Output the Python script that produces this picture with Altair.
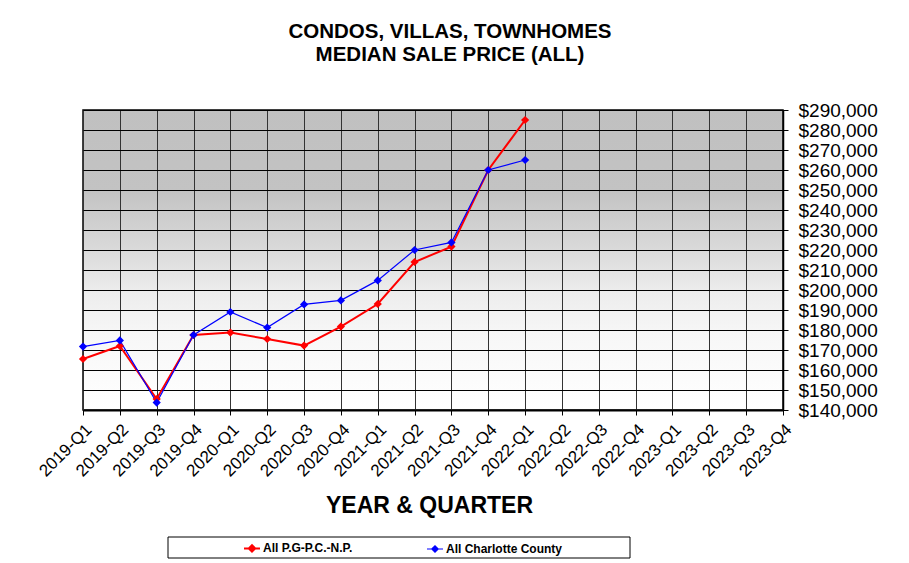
import altair as alt
import pandas as pd

quarters = ["2019-Q1", "2019-Q2", "2019-Q3", "2019-Q4",
            "2020-Q1", "2020-Q2", "2020-Q3", "2020-Q4",
            "2021-Q1", "2021-Q2", "2021-Q3", "2021-Q4",
            "2022-Q1", "2022-Q2", "2022-Q3", "2022-Q4",
            "2023-Q1", "2023-Q2", "2023-Q3", "2023-Q4"]
series_names = ["All P.G-P.C.-N.P.", "All Charlotte County"]
series_colors = ["#ff0000", "#0000ff"]
pgpc_values = [165500, 172000, 145500, 177500, 178700, 175500, 172200,
               181700, 193000, 214000, 221700, 260000, 285000]
charlotte_values = [171700, 174800, 143700, 177500, 189000, 181200, 192800,
                    194800, 204800, 220000, 223800, 260000, 265000]
y_ticks = [140000, 150000, 160000, 170000, 180000, 190000, 200000, 210000,
           220000, 230000, 240000, 250000, 260000, 270000, 280000, 290000]

rows = []
for name, vals in zip(series_names, [pgpc_values, charlotte_values]):
    for q, v in zip(quarters, vals):
        rows.append({"quarter": q, "series": name, "price": v})
df = pd.DataFrame(rows)

FONT = "Liberation Sans"

x_enc = alt.X(
    "quarter:O",
    scale=alt.Scale(type="point", domain=quarters, padding=0),
    axis=alt.Axis(
        title="YEAR & QUARTER", labelAngle=-45, labelFont=FONT, labelFontSize=17,
        labelColor="black", labelPadding=6, labelOverlap=False,
        tickSize=5, tickColor="black", domainColor="black", domainWidth=2,
        grid=True, gridColor="#333333", gridWidth=1,
        titleFont=FONT, titleFontSize=23, titleFontWeight="bold", titleColor="black",
        titleX=346, titleY=95, titleAlign="center", titleBaseline="middle",
    ),
)
y_enc = alt.Y(
    "price:Q",
    scale=alt.Scale(domain=[140000, 290000], nice=False, zero=False),
    axis=alt.Axis(
        orient="right", values=y_ticks, format="$,.0f", title=None,
        labelFont=FONT, labelFontSize=19, labelColor="black", labelPadding=10,
        tickSize=5, tickColor="black", domainColor="black", domainWidth=1.5,
        grid=True, gridColor="black", gridWidth=1,
    ),
)

box = alt.Chart(alt.Data(values=[{}])).mark_rect(
    filled=False, stroke="black", strokeWidth=1
).encode(
    x=alt.value(85), x2=alt.value(547), y=alt.value(427), y2=alt.value(448)
)

lines = alt.Chart(df).mark_line(
    point=alt.OverlayMarkDef(shape="diamond", filled=True, size=68)
).encode(
    x=x_enc,
    y=y_enc,
    color=alt.Color(
        "series:N",
        scale=alt.Scale(domain=series_names, range=series_colors),
        legend=alt.Legend(
            title=None, orient="none", legendX=160, legendY=429,
            direction="horizontal", gridAlign="all", columnPadding=45,
            symbolType="M-1,0L1,0M-0.4,0L0,-0.4L0.4,0L0,0.4Z",
            symbolSize=256, symbolStrokeWidth=1.5,
            labelFont=FONT, labelFontSize=12, labelFontWeight="bold",
            labelColor="black", labelOffset=2,
        ),
    ),
    strokeWidth=alt.StrokeWidth(
        "series:N", scale=alt.Scale(domain=series_names, range=[2, 1.2]), legend=None
    ),
)

chart = alt.layer(box, lines).properties(
    width=700,
    height=300,
    autosize=alt.AutoSizeParams(type="none"),
    padding={"left": 75, "top": 102, "right": 118, "bottom": 153},
    title=alt.Title(
        text=["CONDOS, VILLAS, TOWNHOMES", "MEDIAN SALE PRICE (ALL)"],
        font=FONT, fontSize=20.5, fontWeight="bold", color="black",
        anchor="middle", dx=17, offset=36, lineHeight=23,
    ),
).configure_view(
    fill=alt.ExprRef(expr="{gradient: 'linear', x1: 0, y1: 0, x2: 0, y2: 1, stops: [{offset: 0, color: '#c0c0c0'}, {offset: 0.27, color: '#c3c3c3'}, {offset: 0.45, color: '#d8d8d8'}, {offset: 0.6, color: '#ececec'}, {offset: 0.75, color: '#f7f7f7'}, {offset: 1, color: '#ffffff'}]}"),
    stroke="black",
    strokeWidth=1.5,
)

chart.save("out.html", embed_options={"renderer": "svg", "actions": False})
